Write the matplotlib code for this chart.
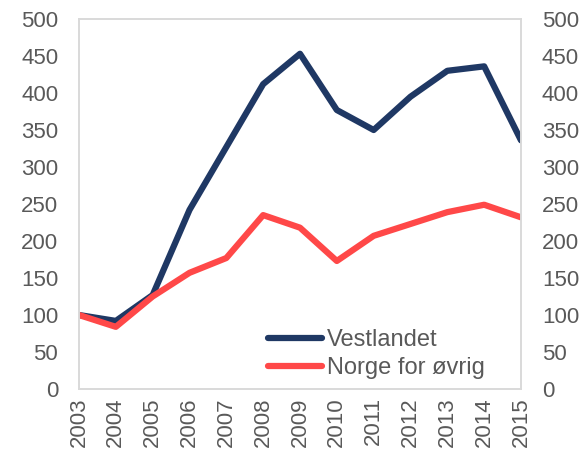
import matplotlib
matplotlib.use("Agg")
import matplotlib.pyplot as plt

plt.rcParams['font.family'] = ['Liberation Sans', 'DejaVu Sans']

years = list(range(2003, 2016))
vestlandet = [100, 92, 127, 242, 327, 412, 453, 377, 350, 395, 430, 436, 336]
norge_ovrig = [100, 84, 125, 157, 177, 235, 218, 173, 207, 223, 239, 249, 232]

grey = "#595959"
fig = plt.figure(figsize=(5.82, 4.58), dpi=100)
ax = fig.add_axes([79 / 582, 1 - 389 / 458, 442 / 582, 370 / 458])

ax.plot(years, vestlandet, color="#1f3864", lw=4.5, label="Vestlandet", solid_capstyle="round")
ax.plot(years, norge_ovrig, color="#ff4848", lw=4.5, label="Norge for øvrig", solid_capstyle="round")

ax.set_xlim(2003, 2015)
ax.set_ylim(0, 500)
ax.set_xticks(years)
ax.set_xticklabels([str(y) for y in years], rotation=90)
ax.set_yticks(range(0, 501, 50))

ax2 = ax.twinx()
ax2.set_ylim(0, 500)
ax2.set_yticks(range(0, 501, 50))

for a in (ax, ax2):
    a.tick_params(length=0, labelsize=16, labelcolor=grey)
    a.tick_params(axis="y", pad=15)
    a.tick_params(axis="x", pad=6)
    for s in a.spines.values():
        s.set_color("#d9d9d9")
        s.set_linewidth(1.2)

leg = ax.legend(loc="upper left", frameon=False, fontsize=17, handlelength=2.3,
                handletextpad=0.2, borderpad=0, borderaxespad=0, labelspacing=0.25,
                bbox_to_anchor=(0.428, 0.162))
for t in leg.get_texts():
    t.set_color(grey)

fig.savefig("out.png", dpi=100)
